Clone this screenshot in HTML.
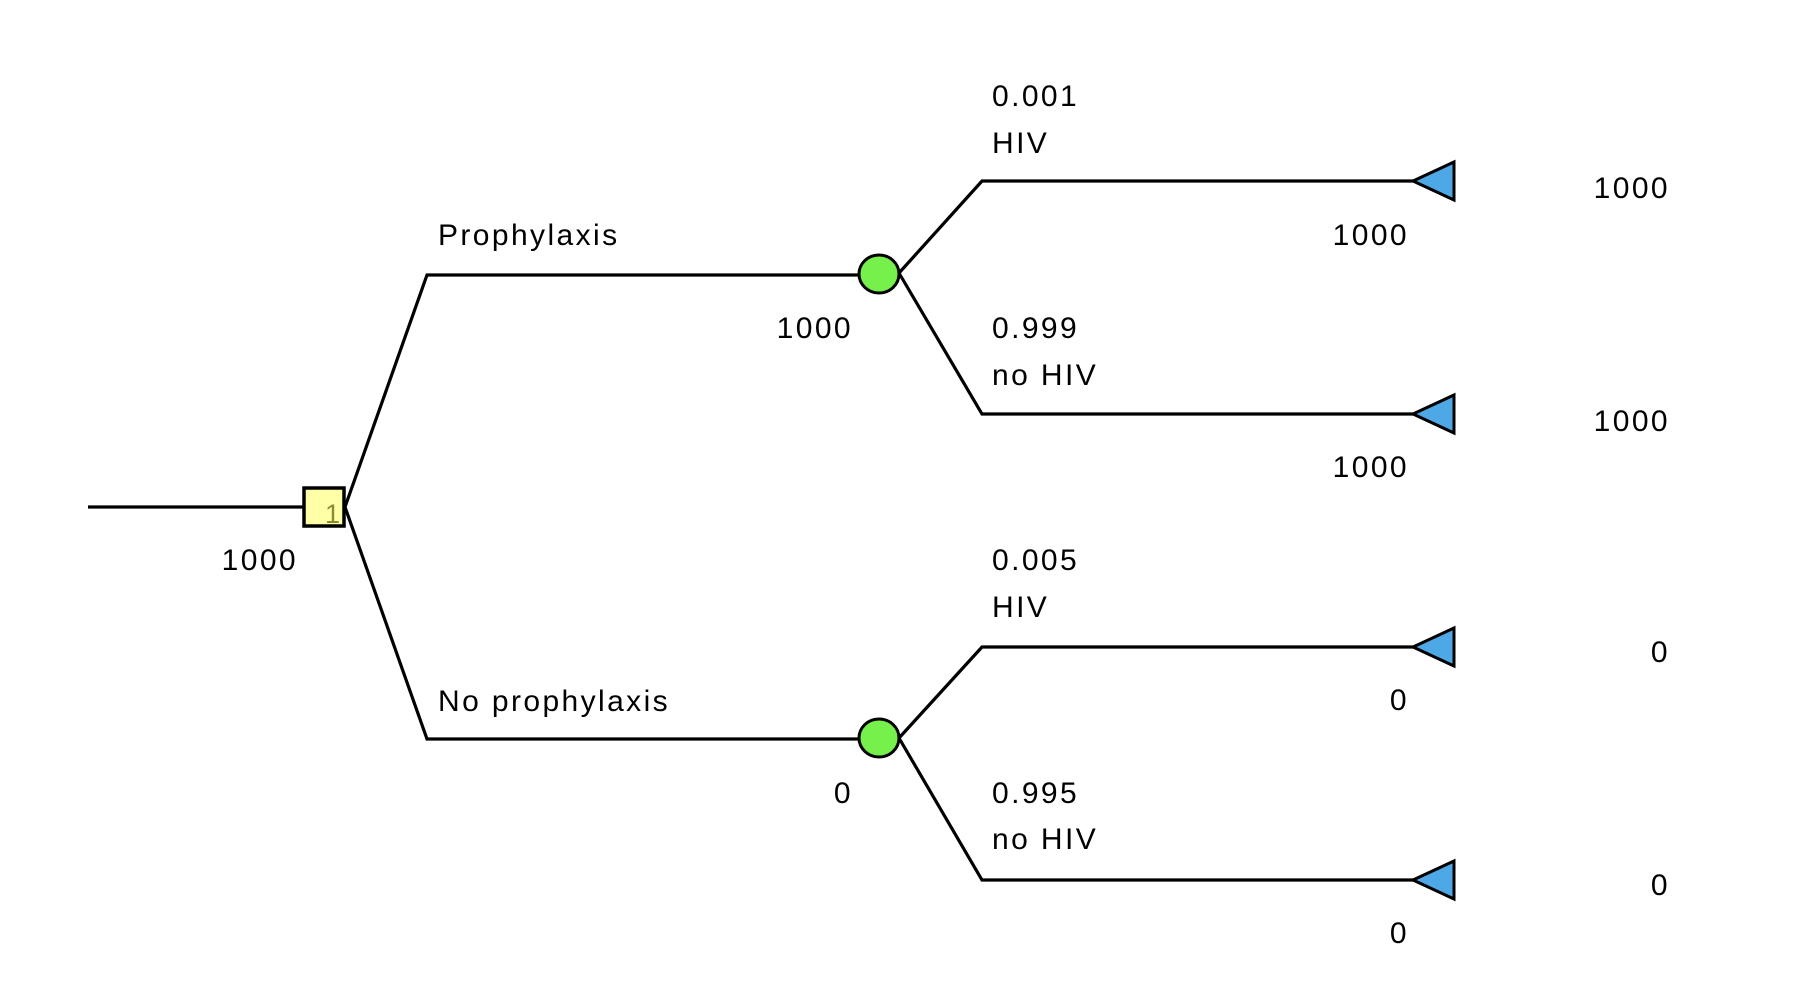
<!DOCTYPE html>
<html><head><meta charset="utf-8"><style>
html,body{margin:0;padding:0;background:#fff;}
svg{display:block;}
text{font-family:"Liberation Sans",sans-serif;font-size:30px;letter-spacing:2.4px;fill:#000;}
</style></head><body>
<svg width="1808" height="1002" viewBox="0 0 1808 1002" xmlns="http://www.w3.org/2000/svg">
<g fill="none" stroke="#000" stroke-width="3.2">
<line x1="88" y1="507" x2="304" y2="507"/>
<polyline points="345,507 427,275 860,275"/>
<polyline points="345,507 427,739 860,739"/>
<polyline points="899,273 982,181 1414,181"/>
<polyline points="899,273 982,414 1414,414"/>
<polyline points="899,738 982,647 1414,647"/>
<polyline points="899,738 982,880 1414,880"/>
</g>
<rect x="304" y="488" width="40" height="38" fill="#ffffa8" stroke="#000" stroke-width="3.5"/>
<text x="325" y="523" style="fill:#8a8a30;font-size:27px;letter-spacing:0">1</text>
<ellipse cx="879" cy="274" rx="20" ry="19" fill="#76f04a" stroke="#000" stroke-width="3"/>
<ellipse cx="879" cy="738" rx="20" ry="19" fill="#76f04a" stroke="#000" stroke-width="3"/>
<g fill="#4fa8e6" stroke="#000" stroke-width="3">
<polygon points="1413,181 1454,162 1454,200"/>
<polygon points="1413,414 1454,395 1454,433"/>
<polygon points="1413,647 1454,628 1454,666"/>
<polygon points="1413,880 1454,861 1454,899"/>
</g>
<text x="438" y="245">Prophylaxis</text>
<text x="438" y="711">No prophylaxis</text>
<g text-anchor="end">
<text x="298" y="570">1000</text>
<text x="853" y="338">1000</text>
<text x="853" y="803">0</text>
<text x="1409" y="245">1000</text>
<text x="1409" y="477">1000</text>
<text x="1409" y="710">0</text>
<text x="1409" y="943">0</text>
<text x="1670" y="198">1000</text>
<text x="1670" y="431">1000</text>
<text x="1670" y="662">0</text>
<text x="1670" y="895">0</text>
</g>
<text x="992" y="106">0.001</text>
<text x="992" y="153">HIV</text>
<text x="992" y="338">0.999</text>
<text x="992" y="385">no HIV</text>
<text x="992" y="570">0.005</text>
<text x="992" y="617">HIV</text>
<text x="992" y="803">0.995</text>
<text x="992" y="849">no HIV</text>
</svg>
</body></html>
